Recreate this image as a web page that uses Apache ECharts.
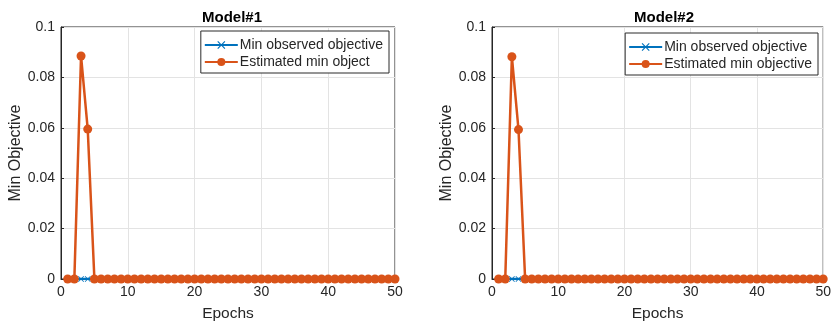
<!DOCTYPE html>
<html>
<head>
<meta charset="utf-8">
<script src="https://cdn.jsdelivr.net/npm/echarts@6/dist/echarts.min.js"></script>
<style>
  html, body { margin: 0; padding: 0; background: #fff; }
  #chart { width: 834px; height: 327px; }
</style>
</head>
<body>
<div id="chart"></div>
<script>
// epochs on the x axis
const epochs = [1, 2, 3, 4, 5, 6, 7, 8, 9, 10, 11, 12, 13, 14, 15, 16, 17, 18, 19, 20,
  21, 22, 23, 24, 25, 26, 27, 28, 29, 30, 31, 32, 33, 34, 35, 36, 37, 38, 39, 40,
  41, 42, 43, 44, 45, 46, 47, 48, 49, 50];

// Model#1
const observed1 = [0, 0, 0, 0, 0, 0, 0, 0, 0, 0, 0, 0, 0, 0, 0, 0, 0, 0, 0, 0,
  0, 0, 0, 0, 0, 0, 0, 0, 0, 0, 0, 0, 0, 0, 0, 0, 0, 0, 0, 0,
  0, 0, 0, 0, 0, 0, 0, 0, 0, 0];
const estimated1 = [0, 0, 0.0885, 0.0595, 0, 0, 0, 0, 0, 0, 0, 0, 0, 0, 0, 0, 0, 0, 0, 0,
  0, 0, 0, 0, 0, 0, 0, 0, 0, 0, 0, 0, 0, 0, 0, 0, 0, 0, 0, 0,
  0, 0, 0, 0, 0, 0, 0, 0, 0, 0];

// Model#2
const observed2 = [0, 0, 0, 0, 0, 0, 0, 0, 0, 0, 0, 0, 0, 0, 0, 0, 0, 0, 0, 0,
  0, 0, 0, 0, 0, 0, 0, 0, 0, 0, 0, 0, 0, 0, 0, 0, 0, 0, 0, 0,
  0, 0, 0, 0, 0, 0, 0, 0, 0, 0];
const estimated2 = [0, 0, 0.0882, 0.0593, 0, 0, 0, 0, 0, 0, 0, 0, 0, 0, 0, 0, 0, 0, 0, 0,
  0, 0, 0, 0, 0, 0, 0, 0, 0, 0, 0, 0, 0, 0, 0, 0, 0, 0, 0, 0,
  0, 0, 0, 0, 0, 0, 0, 0, 0, 0];

const titles = ['Model#1', 'Model#2'];
const legendNames1 = ['Min observed objective', 'Estimated min object'];
const legendNames2 = ['Min observed objective', 'Estimated min objective'];

const BLUE = '#0072BD';
const ORANGE = '#D95319';
const AXIS = '#262626';
const FONT = 'Liberation Sans, Arial, sans-serif';

// small x-shaped marker like matlab
const crossPath = 'path://M1,0L5,4L9,0L10,1L6,5L10,9L9,10L5,6L1,10L0,9L4,5L0,1Z';

const pairs = (ys) => epochs.map((x, i) => [x, ys[i]]);

const grids = [
  { left: 61, width: 334, top: 27, height: 254 },
  { left: 492, width: 335, top: 27, height: 254 }
];

function xAxisFor(idx) {
  return {
    gridIndex: idx,
    type: 'value',
    min: 0, max: 50, interval: 10,
    name: 'Epochs',
    nameLocation: 'middle',
    nameGap: 27,
    nameTextStyle: { color: AXIS, fontSize: 15.5, fontFamily: FONT },
    axisLine: { lineStyle: { color: AXIS, width: 1 } },
    axisTick: { inside: true, length: 3, lineStyle: { color: AXIS } },
    axisLabel: { color: AXIS, fontSize: 14, fontFamily: FONT, margin: 6 },
    splitLine: { show: true, lineStyle: { color: '#e3e3e3', width: 1 } }
  };
}

function yAxisFor(idx) {
  return {
    gridIndex: idx,
    type: 'value',
    min: 0, max: 0.1, interval: 0.02,
    name: 'Min Objective',
    nameLocation: 'middle',
    nameGap: 36,
    nameTextStyle: { color: AXIS, fontSize: 16, fontFamily: FONT },
    axisLine: { show: true, lineStyle: { color: AXIS, width: 1 } },
    axisTick: { show: true, inside: true, length: 3, lineStyle: { color: AXIS } },
    axisLabel: { color: AXIS, fontSize: 14, fontFamily: FONT, margin: 6 },
    splitLine: { show: true, lineStyle: { color: '#e3e3e3', width: 1 } }
  };
}

function seriesFor(idx, names, obs, est) {
  return [
    {
      name: names[0], type: 'line', xAxisIndex: idx, yAxisIndex: idx,
      data: pairs(obs),
      symbol: crossPath, symbolSize: 6,
      lineStyle: { color: BLUE, width: 2.5 },
      itemStyle: { color: BLUE },
      z: 2
    },
    {
      name: names[1], type: 'line', xAxisIndex: idx, yAxisIndex: idx,
      data: pairs(est),
      symbol: 'circle', symbolSize: 9,
      lineStyle: { color: ORANGE, width: 2.5 },
      itemStyle: { color: ORANGE },
      z: 3
    }
  ];
}

function legendFor(idx, names, right, top) {
  return {
    data: names.map((n) => ({ name: n })),
    orient: 'vertical',
    right: right, top: top,
    itemWidth: 33, itemHeight: 10, itemGap: 1,
    padding: [6, 6, 3, 3],
    backgroundColor: '#fff',
    borderColor: '#2b2b2b', borderWidth: 1,
    textStyle: { color: AXIS, fontSize: 14, lineHeight: 16, fontFamily: FONT, padding: [0, 0, 0, -3] }
  };
}

const chart = echarts.init(document.getElementById('chart'), null, { renderer: 'canvas' });

chart.setOption({
  animation: false,
  backgroundColor: '#fff',
  title: [
    { text: titles[0], left: 227, top: 5, textAlign: 'center',
      textStyle: { fontSize: 15, fontWeight: 'bold', color: '#000', fontFamily: FONT } },
    { text: titles[1], left: 659, top: 5, textAlign: 'center',
      textStyle: { fontSize: 15, fontWeight: 'bold', color: '#000', fontFamily: FONT } }
  ],
  legend: [
    legendFor(0, legendNames1, 445, 31),
    legendFor(1, legendNames2, 16, 33)
  ],
  grid: grids.map((g) => Object.assign({ show: true, borderColor: AXIS, borderWidth: 1 }, g)),
  xAxis: [xAxisFor(0), xAxisFor(1)],
  yAxis: [yAxisFor(0), yAxisFor(1)],
  series: seriesFor(0, legendNames1, observed1, estimated1)
    .concat(seriesFor(1, legendNames2, observed2, estimated2))
});
</script>
</body>
</html>
